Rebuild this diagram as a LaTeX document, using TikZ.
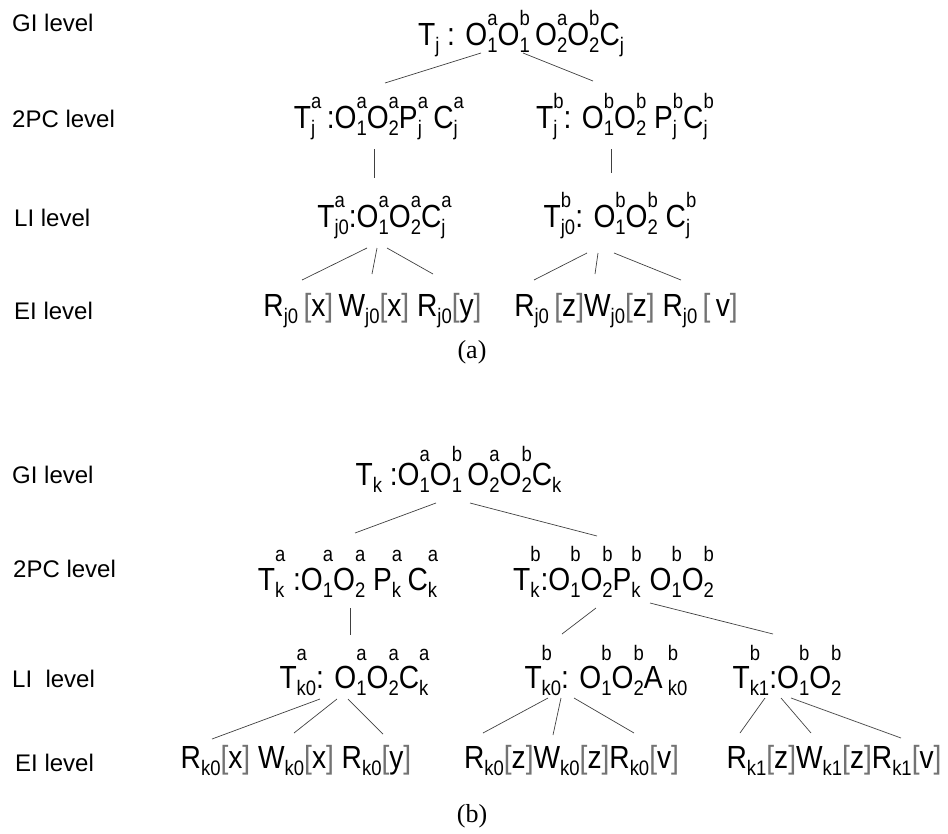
\documentclass[tikz,border=0pt]{standalone}
\usepackage{fontspec}
\setmainfont{Liberation Sans}
\newfontfamily\nodefont{Liberation Sans}[FakeStretch=0.88]
\newfontfamily\serifcap{Liberation Serif}
\newcommand\mainf{\nodefont\fontsize{32}{32}\selectfont}
\newcommand\scr{\fontsize{21}{21}\selectfont}
\def\supr{0.6em}
\def\subl{0.22em}
\newcommand\SuSb[2]{\begingroup\setbox0=\hbox{\scr #1}\setbox2=\hbox{\scr #2}%
  \dimen0=\wd0 \ifdim\wd2>\dimen0 \dimen0=\wd2 \fi
  \hbox to\dimen0{\rlap{\raise\supr\box0}\lower\subl\box2\hfil}\endgroup}
\newcommand\lb{{\color{black!55}[}}
\newcommand\rb{{\color{black!55}]}}
\begin{document}
\begin{tikzpicture}[x=1pt,y=-1pt,
  tx/.style={inner sep=0pt,anchor=base,font=\mainf},
  supA/.style={execute at begin node={\def\supr{0.6em}}},
  supB/.style={execute at begin node={\def\supr{0.75em}}},
  supC/.style={execute at begin node={\def\supr{0.9em}}},
  supD/.style={execute at begin node={\def\supr{0.85em}}},
  lvl/.style={inner sep=0pt,anchor=base west,font=\fontsize{24}{24}\selectfont},
  capt/.style={inner sep=0pt,font=\serifcap\fontsize{26}{26}\selectfont},
  con/.style={line width=0.7pt,black!75}]
\useasboundingbox (0,0) rectangle (948,833);

% ---------- (a) ----------
\node[lvl] (la1) at (12,31) {GI level};
\node[lvl] (la2) at (12,127) {2PC level};
\node[lvl] (la3) at (14,226) {LI level};
\node[lvl] (la4) at (14,319) {EI level};

\node[tx,supA] (gia) at (521,45) {T\SuSb{}{j} : O\SuSb{a}{1}O\SuSb{b}{1}\,O\SuSb{a}{2}O\SuSb{b}{2}C\SuSb{}{j}};
\node[tx,supA] (pcla) at (379,128) {T\SuSb{a}{j}\,:O\SuSb{a}{1}O\SuSb{a}{2}P\SuSb{a}{j}\,C\SuSb{a}{j}};
\node[tx,supA] (pcra) at (625,128) {T\SuSb{b}{j}: O\SuSb{b}{1}O\SuSb{b}{2} P\SuSb{b}{j}C\SuSb{b}{j}};
\node[tx,supA] (lila) at (384.5,227) {T\SuSb{a}{j0}:O\SuSb{a}{1}O\SuSb{a}{2}C\SuSb{a}{j}};
\node[tx,supA] (lira) at (620,227) {T\SuSb{b}{j0}: O\SuSb{b}{1}O\SuSb{b}{2} C\SuSb{b}{j}};
\node[tx] (eila) at (372.5,316) {R\SuSb{}{j0}\,\lb x\rb\,W\SuSb{}{j0}\lb x\rb\ R\SuSb{}{j0}\lb y\rb};
\node[tx] (eira) at (626,316) {R\SuSb{}{j0}\,\lb z\rb W\SuSb{}{j0}\lb z\rb\ R\SuSb{}{j0}\,\lb\,v\rb};
\node[capt] (capa) at (472,352) {(a)};

\draw[con] ([shift={(-40,8)}]gia.base) -- ([shift={(6,-45)}]pcla.base);
\draw[con] ([shift={(2,8)}]gia.base) -- ([shift={(-32,-47)}]pcra.base);
\draw[con] ([shift={(-5,21)}]pcla.base) -- ([shift={(-10.5,-49)}]lila.base);
\draw[con] ([shift={(-14,21)}]pcra.base) -- ([shift={(-9,-54)}]lira.base);
\draw[con] ([shift={(-17.5,21)}]lila.base) -- ([shift={(-70.5,-36)}]eila.base);
\draw[con] ([shift={(-7.5,21)}]lila.base) -- ([shift={(-0.5,-42)}]eila.base);
\draw[con] ([shift={(2.5,21)}]lila.base) -- ([shift={(60.5,-42)}]eila.base);
\draw[con] ([shift={(-33,26)}]lira.base) -- ([shift={(-92,-36)}]eira.base);
\draw[con] ([shift={(-22,26)}]lira.base) -- ([shift={(-31,-42)}]eira.base);
\draw[con] ([shift={(-6,26)}]lira.base) -- ([shift={(55,-36)}]eira.base);

% ---------- (b) ----------
\node[lvl] (lb1) at (12,483) {GI level};
\node[lvl] (lb2) at (13,577) {2PC level};
\node[lvl] (lb3) at (12,687) {LI\ \ level};
\node[lvl] (lb4) at (15,771) {EI level};

\node[tx,supB] (gib) at (458.5,485) {T\SuSb{}{k} :O\SuSb{a}{1}O\SuSb{b}{1}\,O\SuSb{a}{2}O\SuSb{b}{2}C\SuSb{}{k}};
\node[tx,supC] (pclb) at (348,590) {T\SuSb{a}{k} :O\SuSb{a}{1}O\SuSb{a}{2} P\SuSb{a}{k}\,C\SuSb{a}{k}};
\node[tx,supC] (pcrb) at (613.5,590) {T\SuSb{b}{k}:O\SuSb{b}{1}O\SuSb{b}{2}P\SuSb{b}{k} O\SuSb{b}{1}O\SuSb{b}{2}};
\node[tx,supD] (lilb) at (354.5,688) {T\SuSb{a}{k0}: O\SuSb{a}{1}O\SuSb{a}{2}C\SuSb{a}{k}};
\node[tx,supD] (limb) at (606,688) {T\SuSb{b}{k0}: O\SuSb{b}{1}O\SuSb{b}{2}A\,\SuSb{b}{k0}};
\node[tx,supD] (lirb) at (787,688) {T\SuSb{b}{k1}:O\SuSb{b}{1}O\SuSb{b}{2}};
\node[tx] (eilb) at (296,768) {R\SuSb{}{k0}\lb x\rb\ W\SuSb{}{k0}\lb x\rb\ R\SuSb{}{k0}\lb y\rb};
\node[tx] (eimb) at (571.5,768) {R\SuSb{}{k0}\lb z\rb W\SuSb{}{k0}\lb z\rb R\SuSb{}{k0}\lb v\rb};
\node[tx] (eirb) at (834,768) {R\SuSb{}{k1}\lb z\rb W\SuSb{}{k1}\lb z\rb R\SuSb{}{k1}\lb v\rb};
\node[capt] (capb) at (472,816) {(b)};

\draw[con] ([shift={(-22.5,18)}]gib.base) -- ([shift={(7,-57)}]pclb.base);
\draw[con] ([shift={(11.5,18)}]gib.base) -- ([shift={(-16.5,-54)}]pcrb.base);
\draw[con] ([shift={(2,18)}]pclb.base) -- ([shift={(-4.5,-53)}]lilb.base);
\draw[con] ([shift={(-17.5,18)}]pcrb.base) -- ([shift={(-44,-54)}]limb.base);
\draw[con] ([shift={(36.5,13)}]pcrb.base) -- ([shift={(-14,-54)}]lirb.base);
\draw[con] ([shift={(-34.5,11)}]lilb.base) -- ([shift={(-84,-29)}]eilb.base);
\draw[con] ([shift={(-17.5,11)}]lilb.base) -- ([shift={(-2,-35)}]eilb.base);
\draw[con] ([shift={(-6.5,11)}]lilb.base) -- ([shift={(87,-34)}]eilb.base);
\draw[con] ([shift={(-58,10)}]limb.base) -- ([shift={(-88.5,-35)}]eimb.base);
\draw[con] ([shift={(-45,10)}]limb.base) -- ([shift={(-18.5,-33)}]eimb.base);
\draw[con] ([shift={(-32,10)}]limb.base) -- ([shift={(62.5,-35)}]eimb.base);
\draw[con] ([shift={(-22,10)}]lirb.base) -- ([shift={(-94,-35)}]eirb.base);
\draw[con] ([shift={(-6,10)}]lirb.base) -- ([shift={(-23,-35)}]eirb.base);
\draw[con] ([shift={(4,10)}]lirb.base) -- ([shift={(67,-30)}]eirb.base);
\end{tikzpicture}
\end{document}
